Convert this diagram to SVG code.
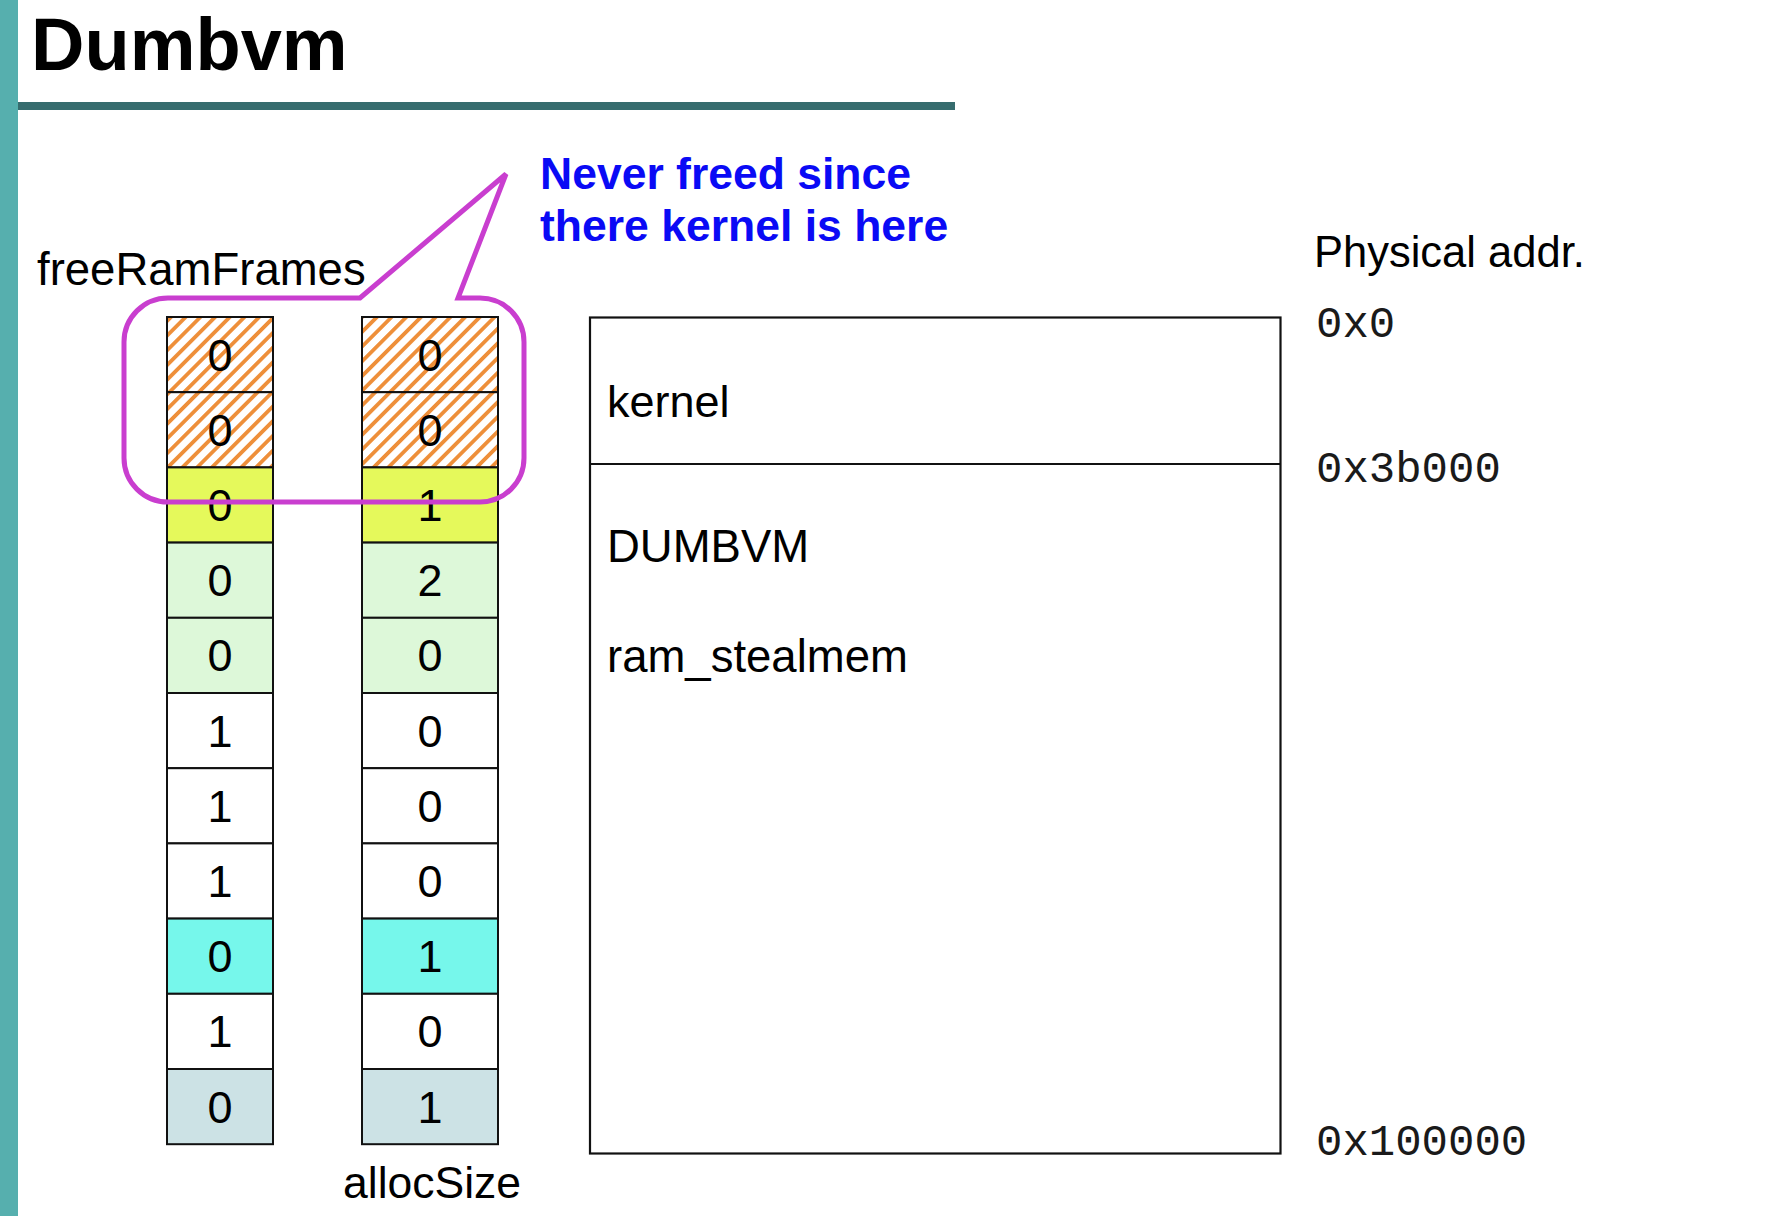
<svg xmlns="http://www.w3.org/2000/svg" width="1774" height="1216" viewBox="0 0 1774 1216">
  <defs>
    <pattern id="hatch" patternUnits="userSpaceOnUse" width="10.4" height="20" patternTransform="rotate(45)">
      <rect x="0" y="0" width="10.4" height="20" fill="#ffffff"/>
      <rect x="0" y="0" width="3.8" height="20" fill="#ee8f3a"/>
    </pattern>
    <style>
      .cell { stroke: #111; stroke-width: 2; }
      .num { font-family: "Liberation Sans", Arial, sans-serif; font-size: 45px; fill: #000; text-anchor: middle; }
      .lbl { font-family: "Liberation Sans", Arial, sans-serif; fill: #000; }
      .addr { font-family: "Liberation Mono", "Courier New", monospace; font-size: 44px; fill: #1a1a1a; }
      .hatch { fill: url(#hatch); }
      .yel { fill: #e5f95b; }
      .grn { fill: #ddf8d9; }
      .wht { fill: #ffffff; }
      .cyn { fill: #76f7eb; }
      .gry { fill: #cce2e5; }
    </style>
  </defs>
  <rect x="0" y="0" width="1774" height="1216" fill="#ffffff"/>

  <!-- slide decoration -->
  <rect x="0" y="0" width="18" height="1216" fill="#56afae"/>
  <rect x="18" y="102" width="937" height="8" fill="#366c6e"/>
  <text x="31" y="70" font-family="Liberation Sans, Arial, sans-serif" font-weight="bold" font-size="74" fill="#000">Dumbvm</text>

  <text class="lbl" x="37" y="285" font-size="45.5">freeRamFrames</text>
  <text class="lbl" x="343" y="1198" font-size="44.5">allocSize</text>

  <!-- freeRamFrames column -->
  <g id="freeRamFrames">
    <g id="f0"><rect class="cell hatch" x="167" y="317" width="106" height="75.2"/><text class="num" x="220" y="370.6">0</text></g>
    <g id="f1"><rect class="cell hatch" x="167" y="392.2" width="106" height="75.2"/><text class="num" x="220" y="445.8">0</text></g>
    <g id="f2"><rect class="cell yel" x="167" y="467.4" width="106" height="75.2"/><text class="num" x="220" y="521">0</text></g>
    <g id="f3"><rect class="cell grn" x="167" y="542.6" width="106" height="75.2"/><text class="num" x="220" y="596.2">0</text></g>
    <g id="f4"><rect class="cell grn" x="167" y="617.8" width="106" height="75.2"/><text class="num" x="220" y="671.4">0</text></g>
    <g id="f5"><rect class="cell wht" x="167" y="693" width="106" height="75.2"/><text class="num" x="220" y="746.6">1</text></g>
    <g id="f6"><rect class="cell wht" x="167" y="768.2" width="106" height="75.2"/><text class="num" x="220" y="821.8">1</text></g>
    <g id="f7"><rect class="cell wht" x="167" y="843.4" width="106" height="75.2"/><text class="num" x="220" y="897">1</text></g>
    <g id="f8"><rect class="cell cyn" x="167" y="918.6" width="106" height="75.2"/><text class="num" x="220" y="972.2">0</text></g>
    <g id="f9"><rect class="cell wht" x="167" y="993.8" width="106" height="75.2"/><text class="num" x="220" y="1047.4">1</text></g>
    <g id="f10"><rect class="cell gry" x="167" y="1069" width="106" height="75.2"/><text class="num" x="220" y="1122.6">0</text></g>
  </g>

  <!-- allocSize column -->
  <g id="allocSizeCol">
    <g id="a0"><rect class="cell hatch" x="362" y="317" width="136" height="75.2"/><text class="num" x="430" y="370.6">0</text></g>
    <g id="a1"><rect class="cell hatch" x="362" y="392.2" width="136" height="75.2"/><text class="num" x="430" y="445.8">0</text></g>
    <g id="a2"><rect class="cell yel" x="362" y="467.4" width="136" height="75.2"/><text class="num" x="430" y="521">1</text></g>
    <g id="a3"><rect class="cell grn" x="362" y="542.6" width="136" height="75.2"/><text class="num" x="430" y="596.2">2</text></g>
    <g id="a4"><rect class="cell grn" x="362" y="617.8" width="136" height="75.2"/><text class="num" x="430" y="671.4">0</text></g>
    <g id="a5"><rect class="cell wht" x="362" y="693" width="136" height="75.2"/><text class="num" x="430" y="746.6">0</text></g>
    <g id="a6"><rect class="cell wht" x="362" y="768.2" width="136" height="75.2"/><text class="num" x="430" y="821.8">0</text></g>
    <g id="a7"><rect class="cell wht" x="362" y="843.4" width="136" height="75.2"/><text class="num" x="430" y="897">0</text></g>
    <g id="a8"><rect class="cell cyn" x="362" y="918.6" width="136" height="75.2"/><text class="num" x="430" y="972.2">1</text></g>
    <g id="a9"><rect class="cell wht" x="362" y="993.8" width="136" height="75.2"/><text class="num" x="430" y="1047.4">0</text></g>
    <g id="a10"><rect class="cell gry" x="362" y="1069" width="136" height="75.2"/><text class="num" x="430" y="1122.6">1</text></g>
  </g>

  <!-- physical memory -->
  <g id="memory">
    <rect x="590" y="317.5" width="690.5" height="836" fill="#ffffff" stroke="#111" stroke-width="2.2"/>
    <line x1="590" y1="464" x2="1280.5" y2="464" stroke="#111" stroke-width="2.2"/>
    <text class="lbl" x="607" y="417" font-size="45">kernel</text>
    <text class="lbl" x="607" y="562" font-size="45.5">DUMBVM</text>
    <text class="lbl" x="607" y="672" font-size="45.5">ram_stealmem</text>
  </g>

  <g id="addresses">
    <text class="lbl" x="1314" y="267" font-size="43.5">Physical addr.</text>
    <text class="addr" x="1316" y="337">0x0</text>
    <text class="addr" x="1316" y="482">0x3b000</text>
    <text class="addr" x="1316" y="1155">0x100000</text>
  </g>

  <!-- callout -->
  <g id="callout">
    <path d="M 168 298 L 360 298 L 506 174 L 458 298 L 480 298 A 44 44 0 0 1 524 342 L 524 458 A 44 44 0 0 1 480 502 L 168 502 A 44 44 0 0 1 124 458 L 124 342 A 44 44 0 0 1 168 298 Z" fill="none" stroke="#c93ecf" stroke-width="5" stroke-linejoin="miter"/>
    <text x="540" y="189" font-family="Liberation Sans, Arial, sans-serif" font-weight="bold" font-size="44.5" fill="#0a0af5">Never freed since</text>
    <text x="540" y="241" font-family="Liberation Sans, Arial, sans-serif" font-weight="bold" font-size="44.5" fill="#0a0af5">there kernel is here</text>
  </g>
</svg>
